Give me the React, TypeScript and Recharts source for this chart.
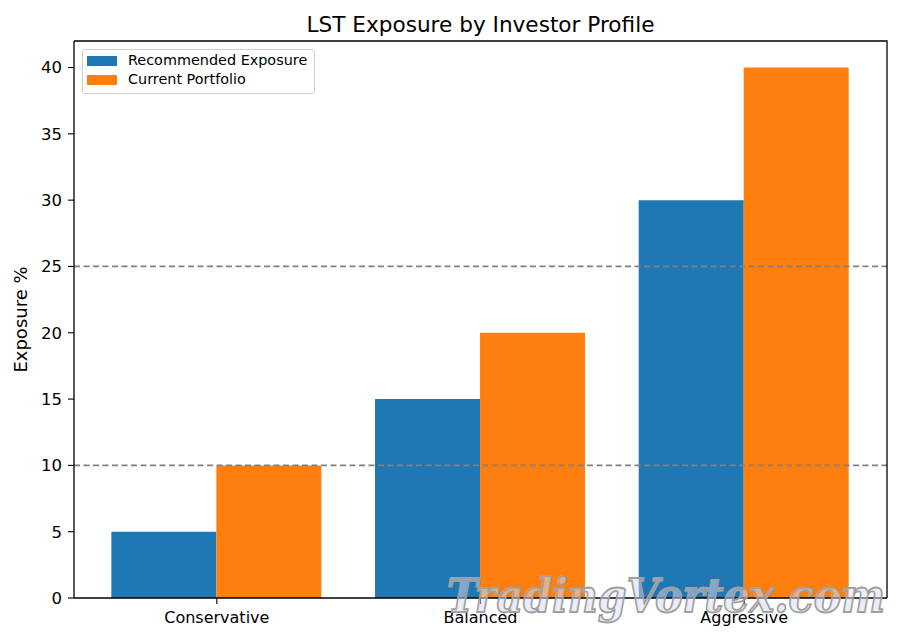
import React from 'react';
import { BarChart, Bar, XAxis, YAxis, ReferenceLine, Legend } from 'recharts';

const categories = ['Conservative', 'Balanced', 'Aggressive'];
const recommendedExposure = [5, 15, 30];
const currentPortfolio = [10, 20, 40];
const yTicks = [0, 5, 10, 15, 20, 25, 30, 35, 40];
const thresholdLevels = [10, 25];

const seriesNames = ['Recommended Exposure', 'Current Portfolio'];
const seriesColors = ['#1f77b4', '#ff7f0e'];

const FONT = '"DejaVu Sans", sans-serif';

const chartData = categories.map((name, i) => ({
  name,
  recommended: recommendedExposure[i],
  current: currentPortfolio[i],
}));

const LegendBox = () => (
  <div
    style={{
      fontFamily: FONT,
      fontSize: 14.4,
      background: 'rgba(255,255,255,0.8)',
      border: '1px solid #d0d0d0',
      borderRadius: 3,
      padding: '1px 6px 4px 4px',
      width: 221,
      boxSizing: 'content-box',
      whiteSpace: 'nowrap',
    }}
  >
    {seriesNames.map((n, i) => (
      <div key={n} style={{ display: 'flex', alignItems: 'center', height: 19 }}>
        <span style={{ display: 'inline-block', flex: 'none', width: 30, height: 10, background: seriesColors[i], marginRight: 11 }} />
        <span style={{ color: '#000', lineHeight: '19px' }}>{n}</span>
      </div>
    ))}
  </div>
);

const YLabel = (props: any) => {
  const vb = props.viewBox || { x: 0, y: 0, width: 74, height: 0 };
  const cx = vb.x + 20;
  const cy = vb.y + vb.height / 2;
  return (
    <text
      x={cx}
      y={cy}
      transform={`rotate(-90, ${cx}, ${cy})`}
      textAnchor="middle"
      dominantBaseline="central"
      fontFamily={FONT}
      fontSize={18}
      fill="#000"
    >
      Exposure %
    </text>
  );
};

export default function App() {
  return (
    <div style={{ position: 'absolute', left: 0, top: 0, width: 900, height: 639, background: '#fff' }}>
      <BarChart
        width={900}
        height={639}
        data={chartData}
        margin={{ top: 41, right: 13, bottom: 0, left: 0 }}
        barCategoryGap="10%"
        barGap={0}
      >
        <XAxis
          dataKey="name"
          height={41}
          padding={{ left: 11, right: 11 }}
          tickSize={6}
          tickMargin={8}
          axisLine={{ stroke: '#000', strokeWidth: 1.3 }}
          tickLine={{ stroke: '#000', strokeWidth: 1.1 }}
          tick={{ fill: '#000', fontSize: 16, fontFamily: FONT }}
        />
        <YAxis
          width={74}
          domain={[0, 42]}
          ticks={yTicks}
          tickSize={6}
          tickMargin={6}
          axisLine={{ stroke: '#000', strokeWidth: 1.3 }}
          tickLine={{ stroke: '#000', strokeWidth: 1.1 }}
          tick={{ fill: '#000', fontSize: 16.5, fontFamily: FONT }}
          label={<YLabel />}
        />
        <Legend
          layout="horizontal"
          verticalAlign="middle"
          align="center"
          content={() => <LegendBox />}
          wrapperStyle={{ left: 82, top: 49, width: 'auto', height: 'auto' }}
        />
        <Bar dataKey="recommended" name={seriesNames[0]} fill={seriesColors[0]} isAnimationActive={false} />
        <Bar dataKey="current" name={seriesNames[1]} fill={seriesColors[1]} isAnimationActive={false} />
        {thresholdLevels.map((v) => (
          <ReferenceLine key={v} y={v} stroke="#808080" strokeWidth={1.8} strokeDasharray="6 3.5" />
        ))}
      </BarChart>
      <svg
        width={900}
        height={639}
        style={{ position: 'absolute', left: 0, top: 0, pointerEvents: 'none' }}
      >
        {/* plot frame (top and right spines) */}
        <path d="M74,41 L887,41 L887,598" fill="none" stroke="#000" strokeWidth={1.3} />
        <text x={480.5} y={32} textAnchor="middle" fontFamily={FONT} fontSize={21.6} fill="#000">
          LST Exposure by Investor Profile
        </text>
        <text
          x={447}
          y={612}
          textLength={438}
          lengthAdjust="spacingAndGlyphs"
          fontFamily='"DejaVu Serif", serif'
          fontStyle="italic"
          fontWeight="bold"
          fontSize={46}
          fill="rgba(215,220,245,0.5)"
          stroke="#a0a0a0"
          strokeWidth={1.8}
        >
          TradingVortex.com
        </text>
      </svg>
    </div>
  );
}
